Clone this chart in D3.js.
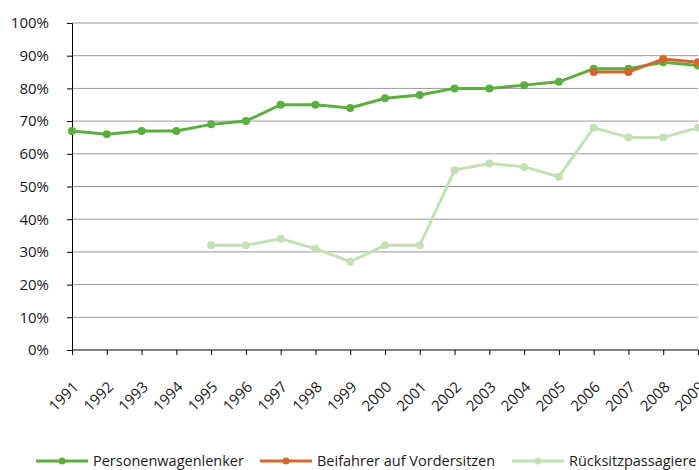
<!DOCTYPE html>
<html>
<head>
<meta charset="utf-8">
<script src="https://cdn.jsdelivr.net/npm/d3@7"></script>
<style>
  body { margin: 0; background: #fff; }
  text { font-family: "Open Sans", "Noto Sans", sans-serif; fill: #1a1a1a; }
</style>
</head>
<body>
<svg id="chart" width="699" height="470"></svg>
<script>
const years = ["1991","1992","1993","1994","1995","1996","1997","1998","1999","2000",
               "2001","2002","2003","2004","2005","2006","2007","2008","2009"];
const lenker = [67,66,67,67,69,70,75,75,74,77,78,80,80,81,82,86,86,88,87];
const beifahrer = [null,null,null,null,null,null,null,null,null,null,null,null,null,null,null,85,85,89,88];
const ruecksitz = [null,null,null,null,32,32,34,31,27,32,32,55,57,56,53,68,65,65,68];
const yTicks = [0,10,20,30,40,50,60,70,80,90,100];

const series = [
  { name: "Rücksitzpassagiere", values: ruecksitz, color: "#c5e0b4" },
  { name: "Personenwagenlenker", values: lenker, color: "#5bae3f" },
  { name: "Beifahrer auf Vordersitzen", values: beifahrer, color: "#d4662c" }
];
const legendOrder = [series[1], series[2], series[0]];

const svg = d3.select("#chart");
const plotLeft = 72, plotRight = 698, plotTop = 23, plotBottom = 350;

const x = d3.scalePoint().domain(years).range([plotLeft, plotRight]);
const y = d3.scaleLinear().domain([0, 100]).range([plotBottom, plotTop]);

// gridlines
svg.append("g")
  .selectAll("line")
  .data(yTicks.filter(d => d > 0))
  .enter()
  .append("line")
  .attr("x1", plotLeft).attr("x2", plotRight)
  .attr("y1", d => y(d)).attr("y2", d => y(d))
  .attr("stroke", "#9a9a9a")
  .attr("stroke-width", 1);

// y axis
const yAxis = svg.append("g")
  .attr("transform", "translate(" + plotLeft + ",0)")
  .call(d3.axisLeft(y).tickValues(yTicks).tickFormat(d => d + "%").tickSize(5).tickPadding(18));
yAxis.select(".domain").attr("stroke", "#000");
yAxis.selectAll(".tick line").attr("stroke", "#000");
yAxis.selectAll("text").style("font-size", "15px").attr("fill", "#1a1a1a");

// x axis
const xAxis = svg.append("g")
  .attr("transform", "translate(0," + plotBottom + ")")
  .call(d3.axisBottom(x).tickSize(5).tickSizeOuter(0));
xAxis.select(".domain").attr("stroke", "#000").attr("d", "M" + plotLeft + ",0H" + plotRight);
xAxis.selectAll(".tick line").attr("stroke", "#000");
xAxis.selectAll("text")
  .style("font-size", "15px")
  .attr("fill", "#1a1a1a")
  .attr("y", 0).attr("x", 0).attr("dy", 0)
  .attr("text-anchor", "end")
  .attr("transform", "translate(7,38) rotate(-45)");

// lines
const line = d3.line()
  .defined(d => d.v !== null)
  .x(d => x(d.year))
  .y(d => y(d.v));

series.forEach(s => {
  const pts = years.map((yr, i) => ({ year: yr, v: s.values[i] }));
  const g = svg.append("g");
  g.append("path")
    .datum(pts)
    .attr("d", line)
    .attr("fill", "none")
    .attr("stroke", s.color)
    .attr("stroke-width", 3);
  g.selectAll("circle")
    .data(pts.filter(d => d.v !== null))
    .enter()
    .append("circle")
    .attr("cx", d => x(d.year))
    .attr("cy", d => y(d.v))
    .attr("r", 4)
    .attr("fill", s.color);
});

// legend
const legendX = [36, 260, 512];
const legend = svg.append("g")
  .selectAll("g")
  .data(legendOrder)
  .enter()
  .append("g")
  .attr("transform", (d, i) => "translate(" + legendX[i] + ",461)");
legend.append("line")
  .attr("x1", 0).attr("x2", 52)
  .attr("stroke", d => d.color).attr("stroke-width", 3);
legend.append("circle")
  .attr("cx", 26).attr("r", 3.5)
  .attr("fill", d => d.color);
legend.append("text")
  .attr("x", 57).attr("dy", "0.35em")
  .style("font-size", "14.5px")
  .text(d => d.name);
</script>
</body>
</html>
